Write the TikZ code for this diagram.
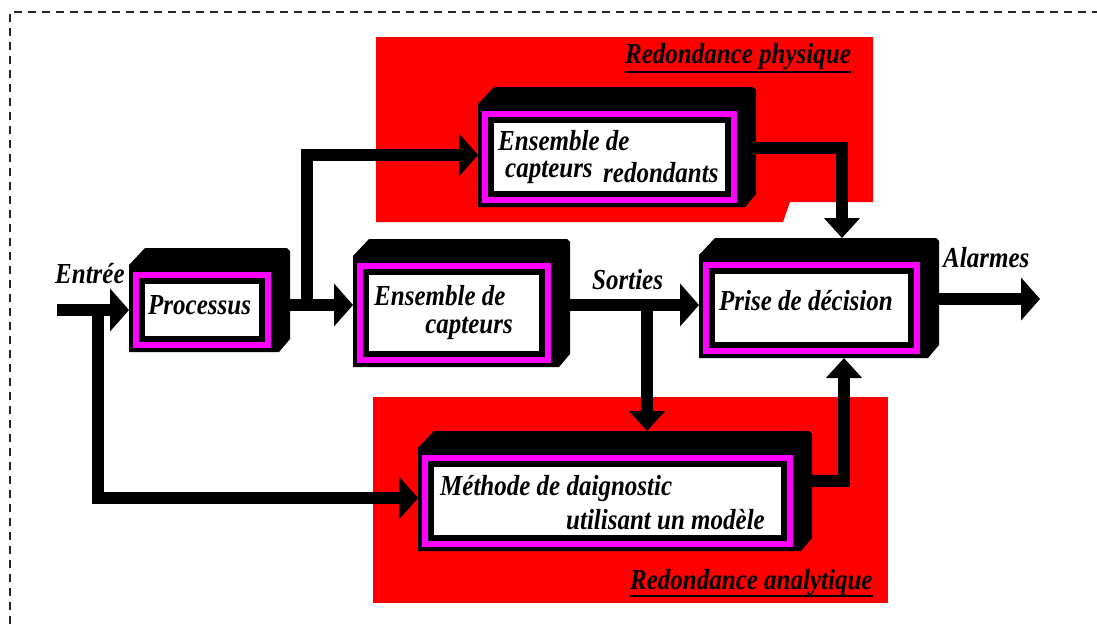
\documentclass[tikz,border=0pt]{standalone}
\usepackage{fontspec}
\newfontfamily\dfont{Liberation Serif}
\usetikzlibrary{arrows.meta,fit}
\definecolor{rred}{RGB}{255,0,0}
\definecolor{mag}{RGB}{255,0,255}
\tikzset{
  flow/.style={line width=12.5pt, line join=miter, draw=black},
  harrow/.style={-{Triangle[length=19pt,width=42pt]}},
  varrow/.style={-{Triangle[length=20pt,width=35pt]}},
  txt/.style={font=\dfont\bfseries\itshape\fontsize{25pt}{28pt}\selectfont, inner sep=0pt, anchor=base west, yscale=1.16, transform shape},
  zone/.style={fill=rred, draw=none},
  border/.style={line width=1.5pt, dash pattern=on 8pt off 6pt, draw=black!85},
  body/.style={inner sep=0pt, outer sep=0pt, draw=none},
  uline/.style={line width=2.5pt, draw=black},
}
\newcommand{\tdbox}[5]{%
  \fill[black] (#2-4,#5+4) -- (#2-4,#3-7) -- (#2+12,#3-24) -- (#4+16,#3-24) -- (#4+19,#3-21) -- (#4+19,#5-9) -- (#4+8,#5+4) -- cycle;
  \fill[mag] (#2,#3) rectangle (#4,#5);
  \fill[black] (#2+6,#3+6) rectangle (#4-6,#5-6);
  \fill[white] (#2+12,#3+12) rectangle (#4-12,#5-12);
  \coordinate (#1-nw) at (#2-4,#3-24);
  \coordinate (#1-se) at (#4+19,#5+4);
  \node[body, fit=(#1-nw)(#1-se)] (#1) {};
}
\begin{document}
\begin{tikzpicture}[x=1pt,y=-1pt]
\useasboundingbox (0,0) rectangle (1097,624);
% dashed frame
\draw[border] (10,624) -- (10,12) -- (1097,12);
% red zones
\fill[zone] (376,37) -- (873,37) -- (873,202) -- (790,202) -- (783,222) -- (376,222) -- cycle;
\fill[zone] (373,397) rectangle (888,603);
% boxes
\tdbox{proc}{133}{272}{271}{348}
\tdbox{sens}{357}{263}{551}{363}
\tdbox{rsens}{482}{111}{737}{203}
\tdbox{dec}{703}{262}{920}{354}
\tdbox{meth}{422}{455}{793}{547}
% junction coordinates
\coordinate (inStart) at (57,310);
\coordinate (fbJ) at (98,310);
\coordinate (brJ) at (307,305);
\coordinate (sortJ) at (647,305);
\coordinate (outEnd) at (1040,299);
% connectors
\draw[flow,harrow] (inStart) -- (proc.west |- inStart);
\draw[flow,harrow] (fbJ) |- (meth.west |- 0,498);
\draw[flow,harrow] (proc.east |- brJ) -- (sens.west |- brJ);
\draw[flow,harrow] (brJ) |- (rsens.west |- 0,155);
\draw[flow,varrow] (rsens.east |- 0,148) -| (842,0 |- dec.north);
\draw[flow,harrow] (sens.east |- sortJ) -- (dec.west |- sortJ);
\draw[flow,varrow] (sortJ) -- (sortJ |- meth.north);
\draw[flow,varrow] (meth.east |- 0,481) -| (844,0 |- dec.south);
\draw[flow,harrow] (dec.east |- outEnd) -- (outEnd);
% texts
\node[txt] (tEntree) at (55,283) {Entrée};
\node[txt] (tProc) at (148,314) {Processus};
\node[txt] (tS1) at (374,305) {Ensemble de};
\node[txt,anchor=base east] (tS2) at (513,333) {capteurs};
\node[txt] (tR1) at (498,150) {Ensemble de};
\node[txt] (tR2) at (505,177) {capteurs};
\node[txt] (tR3) at (603,182) {redondants};
\node[txt] (tSort) at (592,289) {Sorties};
\node[txt] (tDec) at (719,310) {Prise de décision};
\node[txt] (tAl) at (943,267) {Alarmes};
\node[txt] (tM1) at (440,495) {Méthode de daignostic};
\node[txt,anchor=base east] (tM2) at (765,529) {utilisant un modèle};
\node[txt] (tRP) at (625,63) {Redondance physique};
\node[txt] (tRA) at (630,589) {Redondance analytique};
\draw[uline] ([yshift=-9pt]tRP.base west) -- ([yshift=-9pt]tRP.base east);
\draw[uline] ([yshift=-7pt]tRA.base west) -- ([yshift=-7pt]tRA.base east);
\end{tikzpicture}
\end{document}
